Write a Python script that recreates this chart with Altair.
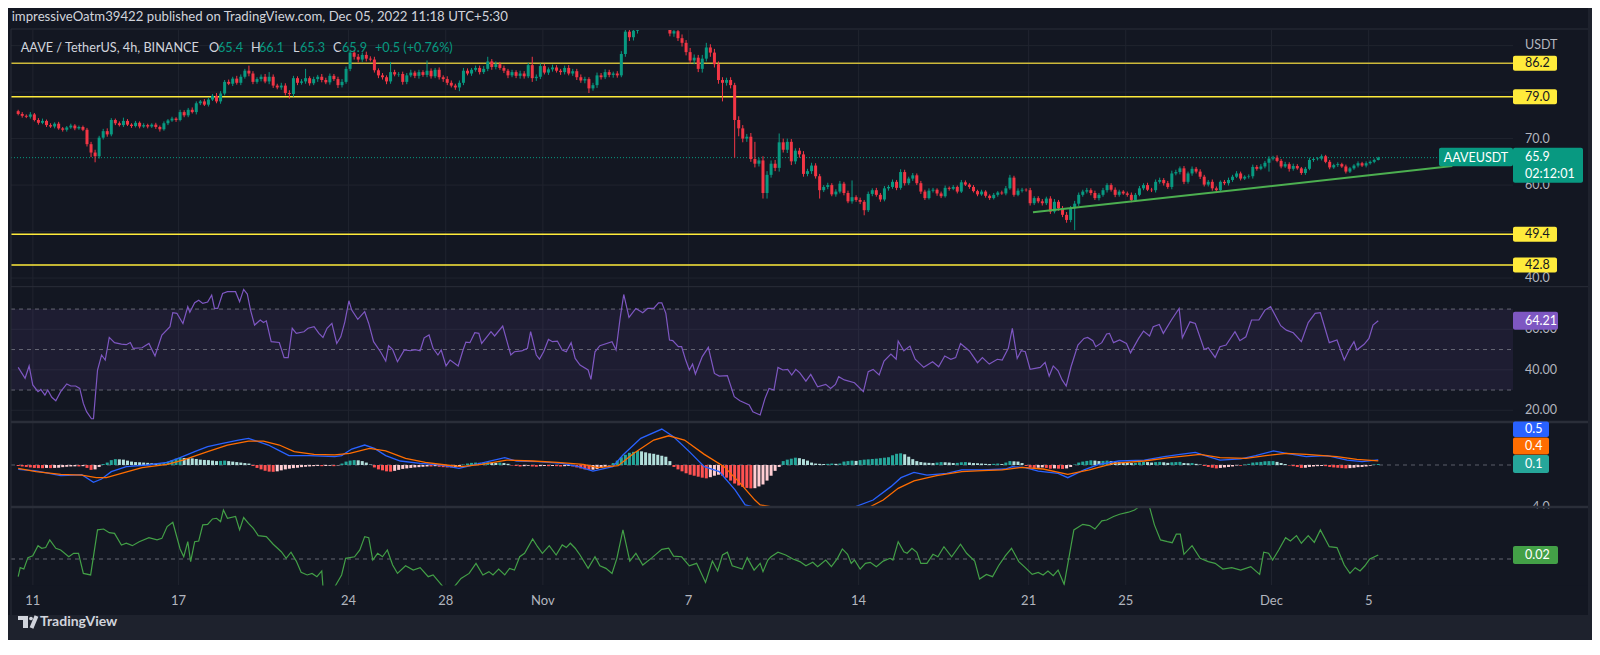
import altair as alt
import pandas as pd

W, H = 1584, 632
BG = "#131722"
FONT = "Lato"
TXT = "#d1d4dc"
AXC = "#b2b5be"
UP, DOWN = "#089981", "#f23645"

# ---------------- data ----------------
start = pd.Timestamp("2022-10-10 09:30")   # first 4h candle (UTC+5:30)
first_open = 75.9
closes = [
75.3, 74.9, 74.7, 75.2, 74.0, 73.4,
73.8, 72.9, 72.6, 73.2, 72.2, 71.9,
72.4, 72.8, 72.2, 72.5, 71.9, 68.8,
67.0, 66.2, 70.2, 71.6, 70.9, 74.0,
73.3, 72.9, 73.8, 73.0, 72.7, 73.4,
72.6, 72.9, 72.6, 73.0, 72.5, 72.0,
73.3, 73.9, 74.3, 74.0, 75.7, 75.0,
76.2, 75.7, 77.6, 78.0, 77.3, 78.4,
79.2, 78.0, 79.7, 82.2, 81.8, 82.9,
82.0, 83.3, 84.6, 84.0, 82.2, 82.8,
83.3, 82.3, 83.3, 81.4, 81.0, 81.4,
79.8, 79.6, 83.0, 82.0, 82.3, 83.0,
81.9, 82.8, 83.3, 82.6, 82.1, 83.5,
82.8, 81.5, 82.2, 85.0, 88.5, 87.6,
87.0, 88.0, 87.2, 87.0, 84.7, 83.6,
83.2, 82.3, 84.3, 83.8, 83.9, 82.2,
83.6, 84.2, 83.5, 84.3, 83.7, 84.6,
83.4, 84.8, 83.2, 82.8, 82.0, 81.4,
81.0, 82.0, 84.6, 84.0, 84.8, 85.2,
84.3, 85.0, 86.6, 85.4, 86.0, 85.2,
84.6, 83.6, 84.3, 83.5, 84.0, 83.4,
85.8, 83.0, 83.3, 85.6, 84.2, 84.9,
85.3, 84.6, 84.3, 85.2, 84.0, 84.5,
83.2, 82.5, 82.8, 80.8, 81.5, 83.6,
83.2, 84.3, 83.7, 84.0, 83.6, 88.2,
93.0, 91.8, 93.2, 94.8, 96.0, 95.2,
96.5, 97.0, 95.8, 96.2, 95.0, 92.6,
93.1, 91.6, 90.6, 88.6, 86.8, 87.4,
85.0, 87.2, 89.6, 88.5, 86.0, 82.6,
82.0, 82.6, 81.5, 74.0, 72.2, 70.0,
70.4, 65.6, 64.6, 65.3, 58.3, 62.2,
64.6, 63.7, 69.2, 67.6, 69.3, 65.1,
67.4, 66.6, 62.4, 63.0, 64.2, 61.9,
58.9, 59.6, 60.0, 58.0, 58.6, 60.3,
58.3, 56.5, 57.4, 56.8, 56.4, 54.6,
58.1, 58.9, 57.9, 56.9, 59.3, 59.6,
60.7, 59.4, 62.8, 60.4, 61.4, 62.1,
60.4, 58.6, 57.2, 58.8, 59.0, 58.2,
57.6, 59.4, 59.2, 59.6, 58.6, 60.6,
60.1, 59.6, 58.7, 58.0, 58.6, 57.7,
57.2, 57.9, 58.4, 58.2, 59.3, 61.6,
57.9, 58.8, 59.0, 58.9, 56.1, 57.2,
56.5, 56.1, 57.1, 54.3, 56.4, 55.0,
53.6, 52.5, 55.0, 56.0, 57.9, 58.6,
58.9, 58.3, 57.2, 57.9, 58.9, 60.0,
59.0, 57.9, 58.6, 58.2, 57.9, 56.8,
57.9, 59.3, 60.0, 59.0, 58.9, 60.7,
61.1, 60.4, 59.6, 62.5, 62.8, 63.6,
60.7, 62.5, 63.5, 62.9, 61.8, 60.1,
60.7, 59.3, 58.9, 60.7, 60.4, 61.1,
61.8, 62.5, 61.4, 61.8, 61.9, 63.9,
63.5, 64.0, 64.8, 65.7, 65.9, 65.2,
64.0, 64.5, 63.5, 64.1, 63.6, 62.6,
63.5, 65.4, 65.6, 65.7, 66.2, 65.0,
63.8, 64.3, 64.5, 64.0, 62.9, 63.6,
64.2, 64.7, 64.2, 64.7, 65.0, 65.4,
65.9]
wick_up = [
.3,.4,.3,.5,.3,.4, .5,.3,.4,.3,.4,.3, .3,.4,.3,.3,.3,.4, .5,.6,.4,.5,.6,.4,
.3,.4,.7,.4,.3,.4, .3,.4,.3,.3,.4,.3, .4,.3,.4,.3,.5,.4, .4,.5,.4,.3,.5,.4,
.4,.6,.5,.4,.5,.4, .6,.5,.4,1.1,.5,.4, .5,.6,1.0,.5,.4,.6, .5,.6,.5,.4,.5,2.0,
.4,.5,.4,.6,.5,.5, .4,.5,.6,.5,.6,.5, .6,.5,.7,.5,.6,.4, .5,.4,2.2,.5,.4,.5,
.5,.6,.4,.5,.4,2.2, .5,.4,.5,.4,.6,.5, .4,.5,.6,.5,.4,.5, .5,.6,1.0,.5,.6,.5,
.5,.4,.5,.4,.6,.5, .5,1.8,.5,.6,.5,.4, .6,.5,.4,.5,.6,.5, .5,.6,.5,.4,.5,.6,
.5,.6,.5,.4,.5,.6, .6,.8,.7,.6,.8,.6, .7,.6,.8,.6,.7,.8, .6,.7,.8,.6,.9,.7,
.6,.8,1.0,.7,.8,.6, .6,.5,.6,.5,.8,.7, .6,.8,3.7,.6,.9,.8, .7,.8,1.9,.8,.7,.6,
.5,.6,.7,.5,.6,.5, .5,.4,.5,.4,.5,.6, .4,.5,3.6,.4,.5,.4, .5,.4,.5,.4,.5,.4,
.5,.4,.6,.5,.4,.5, .4,.5,.4,.5,.4,.3, .4,.5,.3,.4,.3,.5, .4,.3,.4,.3,.4,.3,
.3,.4,.3,.4,.5,.6, .4,.5,.4,.3,.5,.4, .4,.5,.4,.5,.6,.4, .5,.6,.5,.6,.5,.4,
.5,.4,.5,.4,.5,.4, .4,.5,.4,.3,.4,.5, .4,.5,.4,.5,.4,.5, .5,.4,.5,.6,.5,.4,
.5,.4,.5,.4,.5,.4, .4,.5,.4,.3,.4,.5, .4,.5,.4,.3,.4,.5, .4,.5,.4,.5,.4,.5,
.4,.5,.4,.5,.4,.3, .4,.5,.4,.3,.4,.3, .4,.3,.4,.3,.4,.3, .3,.4,.3,.4,.3,.3,
.2]
wick_dn = [
.3,.4,.3,.4,.3,.4, .3,.4,.3,.4,.3,.4, .4,.3,.4,.3,.3,.5, 1.0,1.3,.5,.4,.5,.4,
.4,.3,.4,.3,.4,.3, .4,.3,.4,.3,.4,.5, .3,.4,.3,.4,.3,.4, .4,.3,.5,.4,.3,.4,
.3,.4,.5,.4,.3,.5, .4,.5,.4,.6,.5,.4, .5,.4,.6,.5,.4,.5, .5,1.0,.6,.5,.4,.5,
.5,.4,.6,.5,.4,.5, .4,.6,.5,.4,.5,.6, .6,.5,.6,.4,.5,.6, .5,.6,.5,.4,.5,.6,
.5,.4,.5,.6,.4,.5, .5,.4,.5,.6,.5,.4, .5,.8,.5,.4,.5,.4, .5,.4,.5,.6,.5,.4,
.5,.6,.4,.5,.6,.5, .4,.8,.6,.5,.4,.5, .5,.4,.6,.5,.4,.5, .6,.5,.6,1.0,.5,.6,
.5,.4,.5,.6,.5,.4, .6,.8,.7,.6,.7,.6, .7,.8,.6,.7,.8,.6, .7,.6,.8,.7,.6,.8,
.7,.8,.6,.9,.7,.8, 4.0,.6,.7,8.1,1.7,.8, .7,.6,.8,.6,1.2,1.2, .6,.7,.8,.6,.7,.8,
.6,.7,.6,.5,.6,.5, 1.8,.4,.5,.4,.5,.4, .5,.4,.5,.4,.5,1.1, .4,.5,.4,.5,.4,.5,
.4,.5,.4,.5,.4,.5, .4,.5,.4,.3,.4,.5, .4,.3,.4,.3,.4,.3, .3,.4,.3,.4,.3,.4,
.4,.3,.4,.3,.4,.3, .4,.3,.4,.3,.5,.4, .4,.5,.4,.5,.4,.5, .5,.6,.5,4.7,.5,.4,
.4,.5,.4,.5,.4,.5, .4,.5,.4,.3,.4,.5, .4,.3,.4,.3,.4,.5, .4,.5,.4,.5,.4,.5,
.5,.4,.5,.4,.5,.4, .4,.5,.4,.3,.4,.5, .4,.3,.4,.3,.4,.5, .4,.3,.4,1.9,.4,.3,
.4,.3,.6,.4,.3,.4, .4,.3,.4,.3,.4,.3, .4,.3,.4,.3,.4,.3, .3,.4,.3,.4,.3,.3,
.1]

levels = [86.2, 79.0, 49.4, 42.8]
level_colors = ["#cdb93a", "#ffeb3b", "#ffeb3b", "#ffeb3b"]
price_ticks = [70.0, 60.0, 40.0]
price_grid = [40, 50, 60, 70, 80, 90]
trend_bar = [250.7, 354.3]
trend_price = [54.14, 64.1]

tick_dates = ["2022-10-11", "2022-10-17", "2022-10-24", "2022-10-28", "2022-11-01",
              "2022-11-07", "2022-11-14", "2022-11-21", "2022-11-25", "2022-12-01", "2022-12-05"]
tick_text = ["11", "17", "24", "28", "Nov", "7", "14", "21", "25", "Dec", "5"]

rsi_pts = [(0,41.2),(1.7,35.8),(2.7,41.9),(3.6,32.5),(4.9,29.2),(5.6,30.3),(6.6,27.5),(7.3,30.0),(8.3,26.4),(9.3,24.7),(10.5,29.2),(12.0,33.0),(13.0,32.0),(14.2,32.0),(15.2,30.8),(16.1,23.4),(16.9,19.3),(18.1,15.8),(18.6,15.8),(19.6,39.9),(20.6,47.3),(21.5,44.8),(22.5,56.0),(23.8,53.4),(25.5,52.7),(26.7,52.4),(27.7,53.5),(28.4,50.6),(30.6,50.9),(32.3,53.0),(33.8,46.8),(35.5,57.2),(37.5,61.3),(38.2,68.2),(39.2,67.9),(40.7,62.9),(41.9,71.2),(42.4,68.4),(43.6,73.1),(44.6,74.4),(45.6,72.8),(46.8,73.5),(47.8,76.9),(48.5,70.3),(49.3,70.3),(50.5,77.7),(51.7,78.6),(53.7,78.6),(54.7,73.6),(55.7,79.7),(56.6,77.4),(57.4,69.5),(58.4,62.1),(59.8,64.6),(60.6,63.4),(61.3,64.2),(62.5,53.9),(64.5,53.5),(65.7,46.0),(66.7,46.0),(67.7,60.5),(68.7,58.0),(70.6,58.8),(71.6,60.5),(73.1,61.3),(74.3,58.0),(75.3,56.0),(76.3,60.5),(77.5,62.9),(78.7,53.0),(79.7,56.3),(80.7,63.7),(81.7,74.1),(82.4,69.5),(83.9,64.9),(85.6,68.7),(86.6,62.9),(87.8,53.9),(89.5,48.9),(90.8,44.3),(91.5,51.9),(92.5,50.0),(93.7,44.0),(95.4,49.8),(96.9,49.4),(98.1,50.0),(99.3,49.4),(100.3,55.8),(101.5,57.2),(102.5,50.6),(103.7,47.3),(104.5,49.8),(105.7,41.9),(106.7,44.8),(108.7,41.9),(109.9,49.8),(110.6,53.7),(111.6,53.4),(112.8,58.3),(113.8,58.0),(114.5,53.0),(116.8,58.8),(117.7,56.7),(119.7,61.6),(121.7,47.3),(122.6,48.9),(124.4,49.3),(125.8,50.6),(126.6,58.8),(128.0,47.3),(128.8,45.3),(129.8,48.9),(131.0,55.0),(132.0,53.9),(133.2,54.2),(134.4,49.8),(135.4,48.9),(136.6,53.4),(137.6,45.6),(138.8,42.3),(140.8,39.9),(141.5,35.3),(142.5,48.9),(143.7,51.9),(146.7,53.9),(147.7,49.8),(148.7,65.4),(149.6,77.2),(150.9,65.9),(152.6,70.3),(154.3,68.2),(155.5,70.3),(157.0,70.3),(158.2,73.1),(159.0,73.1),(160.0,67.9),(160.9,54.7),(161.7,54.4),(163.1,51.4),(163.9,51.4),(164.9,44.8),(165.8,39.9),(166.6,42.8),(167.3,37.9),(169.0,46.5),(170.5,51.1),(171.0,46.8),(172.0,38.2),(173.2,36.9),(175.2,37.1),(176.9,26.7),(178.3,24.7),(180.6,22.6),(181.5,19.3),(183.3,17.7),(184.5,25.9),(185.5,30.8),(186.7,30.0),(187.7,41.2),(188.9,39.9),(190.1,40.2),(191.1,37.4),(192.1,40.2),(193.1,38.5),(194.6,34.4),(195.8,37.7),(197.5,31.6),(199.5,32.8),(200.7,30.8),(201.9,32.8),(202.7,36.6),(204.1,35.0),(206.6,33.6),(208.8,29.2),(210.0,39.1),(211.2,40.2),(212.7,37.4),(213.9,44.3),(215.6,47.8),(216.9,45.2),(217.4,54.2),(218.8,49.4),(220.3,51.7),(221.6,45.2),(223.7,41.2),(225.9,44.0),(227.4,41.5),(228.9,46.8),(230.4,45.2),(231.6,46.0),(232.8,53.0),(235.0,49.3),(237.0,43.5),(238.2,46.0),(239.9,42.8),(241.9,45.2),(243.1,44.8),(244.6,50.6),(245.6,60.5),(246.8,45.6),(247.8,49.4),(248.8,48.9),(250.0,40.2),(252.5,41.2),(253.7,43.7),(254.7,36.9),(255.7,41.9),(256.9,39.5),(257.9,35.0),(258.9,32.0),(260.1,41.5),(261.8,52.2),(263.3,55.5),(264.2,56.0),(265.5,54.4),(266.2,51.4),(267.7,53.4),(268.9,57.7),(269.6,58.0),(270.6,53.4),(272.1,54.7),(273.8,53.0),(274.8,48.4),(276.8,55.5),(278.0,59.1),(279.5,56.7),(280.4,61.3),(281.9,62.4),(282.9,58.0),(284.9,64.6),(286.8,70.3),(287.6,55.8),(289.5,63.7),(290.8,62.9),(293.0,50.0),(294.0,50.9),(295.7,46.1),(296.9,51.4),(298.4,52.2),(300.6,58.8),(301.8,54.4),(303.3,56.3),(304.7,64.6),(306.5,64.6),(308.0,69.5),(309.4,71.2),(311.9,61.8),(313.3,59.6),(315.0,58.3),(317.0,53.9),(318.7,63.3),(320.4,67.9),(321.7,68.2),(323.9,53.4),(325.8,54.7),(327.6,44.8),(329.0,50.6),(330.0,53.9),(330.7,49.8),(332.5,52.6),(333.7,55.5),(334.7,62.1),(336.0,64.21)]

macd_pts = [(0,-0.44),(4.4,-0.6),(10.5,-1.1),(15.7,-1.0),(18.6,-1.77),(20.6,-1.44),(23.0,-0.68),(26.7,-0.17),(31.9,0.0),(36.8,0.27),(40.0,0.75),(43.6,1.37),(46.8,1.88),(50.5,2.22),(54.4,2.56),(56.9,2.73),(59.3,2.39),(61.8,2.05),(64.5,1.47),(66.9,0.96),(71.9,0.96),(78.2,0.85),(79.9,0.96),(82.4,1.64),(85.6,2.05),(88.0,1.71),(90.8,0.96),(94.4,0.41),(99.3,0.17),(104.5,0.0),(108.9,-0.34),(113.1,0.07),(120.2,0.75),(123.1,0.41),(128.3,0.34),(134.4,0.17),(138.4,-0.17),(142.0,-0.62),(146.9,-0.17),(149.4,1.03),(153.8,2.73),(159.0,3.69),(161.9,2.9),(165.8,1.37),(169.5,-0.17),(173.2,-0.68),(177.1,-2.56),(179.6,-4.1),(186,-5.6),(195,-6.4),(204,-5.3),(211.2,-3.59),(215.6,-2.22),(218.1,-1.3),(221.3,-0.75),(224.5,-1.03),(229.4,-0.85),(233.1,-0.51),(238.2,-0.51),(243.9,-0.41),(245.6,-0.17),(248.8,-0.27),(252.0,-0.62),(256.9,-0.85),(259.3,-1.3),(263.3,-0.51),(267.0,0.07),(271.9,0.41),(278.2,0.51),(283.1,0.85),(287.1,1.09),(290.8,1.3),(293.2,0.96),(296.9,0.51),(302.0,0.62),(305.7,0.96),(310.1,1.44),(313.3,1.2),(318.2,0.85),(323.4,0.96),(328.3,0.51),(332.0,0.34),(336.0,0.52)]

signal_pts = [(0,-0.34),(4.4,-0.68),(10.5,-0.96),(15.7,-1.03),(19.3,-1.3),(21.8,-1.3),(25.5,-0.85),(30.6,-0.27),(36.8,0.07),(40.7,0.51),(46.8,1.37),(51.7,2.05),(56.9,2.46),(60.6,2.46),(64.5,2.05),(68.2,1.37),(73.1,1.09),(78.2,1.03),(81.9,1.2),(86.8,1.71),(90.8,1.44),(95.7,0.68),(100.6,0.27),(105.7,0.0),(109.4,-0.17),(114.5,0.07),(120.7,0.51),(127.1,0.41),(133.2,0.27),(139.6,0.07),(143.3,-0.27),(148.2,-0.07),(152.1,1.2),(157.0,2.56),(160.7,3.0),(164.6,2.56),(169.5,1.09),(174.4,-0.17),(178.4,-1.88),(182.0,-3.6),(183.3,-4.1),(192,-5.4),(202,-5.6),(209,-4.6),(213.7,-3.59),(217.4,-2.39),(221.3,-1.64),(226.9,-1.1),(233.1,-0.68),(238.2,-0.58),(243.1,-0.51),(248.0,-0.24),(253.2,-0.41),(259.3,-0.96),(264.6,-0.51),(270.6,0.17),(278.2,0.41),(284.4,0.75),(292.0,1.09),(296.9,0.75),(303.3,0.68),(308.2,0.96),(313.3,1.2),(318.2,1.09),(325.8,0.85),(330.7,0.58),(336.0,0.43)]

hist = [
-0.10,-0.15,-0.20,-0.25,-0.30,-0.32, -0.33,-0.30,-0.32,-0.30,-0.28,-0.22, -0.18,-0.15,-0.14,-0.15,-0.12,-0.30,
-0.50,-0.45,-0.20,0.10,0.25,0.50, 0.60,0.58,0.55,0.45,0.35,0.30, 0.28,0.25,0.22,0.18,0.15,0.15,
0.20,0.35,0.50,0.65,0.75,0.72, 0.70,0.68,0.62,0.55,0.52,0.50, 0.45,0.40,0.42,0.45,0.40,0.35,
0.30,0.25,0.20,0.15,-0.10,-0.30, -0.45,-0.60,-0.68,-0.70,-0.65,-0.55, -0.45,-0.38,-0.32,-0.28,-0.22,-0.18,
-0.15,-0.12,-0.10,-0.12,-0.10,-0.08, -0.12,-0.05,0.15,0.35,0.45,0.50, 0.48,0.40,0.25,0.05,-0.25,-0.45,
-0.55,-0.65,-0.68,-0.60,-0.50,-0.40, -0.35,-0.30,-0.25,-0.22,-0.18,-0.15, -0.15,-0.12,-0.18,-0.22,-0.25,-0.25,
-0.22,-0.15,0.05,0.15,0.22,0.25, 0.22,0.25,0.28,0.25,0.22,0.25, 0.20,0.12,-0.05,-0.10,-0.15,-0.12,
-0.08,-0.15,-0.18,-0.12,-0.10,-0.12, -0.10,-0.12,-0.15,-0.12,-0.10,-0.15, -0.25,-0.35,-0.45,-0.50,-0.48,-0.40,
-0.30,-0.20,-0.05,0.20,0.45,0.80, 1.05,1.25,1.35,1.44,1.40,1.30, 1.20,1.15,1.05,0.95,0.85,0.40,
-0.20,-0.45,-0.65,-0.85,-1.00,-1.10, -1.20,-1.30,-1.37,-1.25,-1.10,-1.00, -1.10,-1.30,-1.60,-1.90,-2.10,-2.25,
-2.35,-2.40,-2.38,-2.20,-2.00,-1.60, -1.10,-0.60,-0.20,0.40,0.55,0.65, 0.75,0.70,0.60,0.45,0.25,0.15,
0.12,0.10,0.12,0.15,0.12,0.15, 0.35,0.40,0.45,0.42,0.50,0.55, 0.58,0.62,0.65,0.70,0.75,0.80,
1.00,1.15,1.20,1.10,0.85,0.60, 0.40,0.30,0.25,0.22,0.20,0.25, 0.30,0.28,0.25,0.20,0.22,0.28,
0.30,0.25,0.20,0.18,0.15,0.12, 0.10,0.12,0.15,0.10,0.25,0.40, 0.38,0.35,0.20,-0.10,-0.25,-0.30,
-0.28,-0.25,-0.30,-0.38,-0.35,-0.38, -0.40,-0.35,-0.20,0.05,0.25,0.35, 0.42,0.48,0.45,0.40,0.42,0.45,
0.40,0.35,0.30,0.28,0.25,0.20, 0.22,0.28,0.32,0.30,0.25,0.30, 0.32,0.28,0.22,0.28,0.30,0.32,
0.20,0.18,0.20,0.12,0.05,-0.10, -0.20,-0.28,-0.35,-0.30,-0.25,-0.20, -0.15,-0.05,-0.08,0.05,0.12,0.25,
0.28,0.32,0.38,0.40,0.40,0.32, 0.20,0.10,-0.05,-0.12,-0.20,-0.30, -0.28,-0.20,-0.15,-0.12,-0.10,-0.12,
-0.20,-0.25,-0.28,-0.32,-0.35,-0.32, -0.28,-0.22,-0.20,-0.15,-0.08,0.05,
0.10]

cmf_pts = [(0,-0.102),(0.5,-0.05),(1.4,-0.058),(2.4,0.008),(3.6,0.019),(4.9,0.077),(5.8,0.062),(6.8,0.066),(7.8,0.110),(9.3,0.062),(10.5,0.052),(12.5,0.013),(13.7,0.033),(14.9,0.033),(16.1,-0.083),(17.9,-0.092),(19.6,0.168),(21.1,0.173),(22.5,0.152),(23.8,0.148),(25.5,0.081),(26.7,0.091),(28.2,0.077),(29.9,0.100),(32.3,0.123),(34.3,0.110),(35.5,0.119),(36.8,0.187),(38.2,0.212),(40.0,0.058),(40.9,0.013),(41.9,0.100),(42.6,-0.015),(43.6,0.100),(44.6,0.104),(45.6,0.197),(46.8,0.200),(48.0,0.231),(49.0,0.235),(50.0,0.216),(50.7,0.283),(51.7,0.235),(53.7,0.245),(54.7,0.168),(55.7,0.239),(56.9,0.206),(58.1,0.177),(59.3,0.135),(61.3,0.129),(63.0,0.085),(65.0,0.042),(66.2,0.004),(67.4,0.039),(68.7,-0.012),(69.9,-0.077),(71.4,-0.092),(72.6,-0.083),(73.8,-0.102),(75.0,-0.069),(75.3,-0.17),(78.2,-0.17),(79.9,-0.092),(80.9,0.004),(83.1,0.013),(84.4,0.052),(85.6,0.129),(86.6,0.123),(87.6,-0.006),(88.8,0.033),(90.0,0.013),(91.2,0.052),(92.5,-0.035),(93.7,-0.083),(95.7,-0.039),(97.6,-0.064),(99.3,-0.050),(101.3,-0.102),(102.5,-0.092),(105.0,-0.17),(107.7,-0.17),(109.4,-0.112),(111.4,-0.083),(113.1,-0.025),(114.8,-0.092),(116.3,-0.073),(117.3,-0.092),(118.7,-0.058),(120.2,-0.092),(121.4,-0.054),(122.6,-0.064),(123.9,0.013),(125.1,0.033),(127.1,0.116),(128.3,0.071),(129.5,0.033),(131.2,0.077),(132.9,0.023),(134.4,0.081),(135.4,0.066),(136.4,0.091),(137.6,0.062),(138.8,0.023),(140.8,-0.054),(142.5,0.013),(143.7,-0.039),(145.2,-0.054),(146.7,-0.083),(147.9,0.004),(149.4,0.168),(151.1,-0.012),(152.6,0.033),(154.3,-0.035),(156.6,0.008),(159.0,0.056),(160.7,0.062),(161.9,0.017),(163.9,0.013),(165.8,-0.039),(167.6,-0.025),(169.8,-0.135),(171.5,-0.012),(172.8,-0.069),(174.0,0.023),(175.2,0.039),(176.4,-0.039),(178.9,-0.058),(180.1,0.008),(181.8,-0.064),(183.3,-0.025),(184.0,-0.073),(185.2,-0.006),(186.0,0.013),(187.7,0.039),(189.6,0.023),(191.4,0.000),(193.1,-0.015),(194.6,-0.039),(196.3,-0.019),(197.5,-0.044),(199.5,-0.006),(200.9,-0.044),(202.4,0.004),(203.6,0.058),(204.9,0.027),(205.8,-0.025),(206.6,-0.006),(208.0,-0.058),(209.3,-0.025),(210.5,-0.019),(212.0,-0.044),(213.7,-0.012),(215.4,0.004),(216.1,-0.006),(217.4,0.100),(218.8,0.042),(219.6,0.033),(220.8,0.062),(222.0,0.039),(223.0,-0.025),(224.5,-0.025),(226.0,0.027),(227.2,0.013),(228.7,0.071),(230.6,0.013),(232.8,0.085),(234.3,0.033),(236.3,-0.012),(237.5,-0.116),(239.2,-0.089),(240.7,-0.102),(242.2,-0.039),(243.9,0.019),(245.4,0.062),(247.2,-0.015),(248.8,-0.050),(250.5,-0.089),(252.0,-0.077),(253.2,-0.092),(254.4,-0.069),(255.7,-0.096),(256.9,-0.064),(258.4,-0.146),(260.8,0.168),(263.0,0.200),(264.7,0.193),(266.0,0.173),(267.7,0.220),(268.9,0.225),(270.6,0.245),(272.1,0.258),(274.3,0.270),(275.8,0.283),(276.8,0.32),(279.5,0.32),(280.7,0.197),(282.2,0.110),(283.9,0.100),(285.1,0.094),(286.1,0.143),(287.1,0.143),(288.0,0.027),(290.0,0.077),(292.0,0.004),(294.0,-0.015),(295.7,-0.025),(297.6,-0.058),(299.8,-0.050),(302.0,-0.064),(304.5,-0.044),(306.7,-0.089),(307.7,0.039),(308.9,0.033),(309.9,-0.006),(311.4,0.052),(313.1,0.123),(314.3,0.104),(315.8,0.135),(317.0,0.091),(318.7,0.135),(320.2,0.096),(321.7,0.168),(323.9,0.071),(325.8,0.066),(327.6,-0.035),(329.0,-0.083),(330.3,-0.050),(331.5,-0.069),(332.7,-0.039),(333.9,0.000),(336.0,0.023)]

rsi_levels = [70, 50, 30]
rsi_grid = [20, 40, 60]
rsi_ticks = [60.0, 40.0, 20.0]

# ---------------- frames ----------------
opens = [first_open] + closes[:-1]
highs = [max(o, c) + u for o, c, u in zip(opens, closes, wick_up)]
lows = [min(o, c) - d for o, c, d in zip(opens, closes, wick_dn)]
m = min(len(highs), len(lows))
candles = pd.DataFrame({
    "bar": list(range(m)), "open": opens[:m], "close": closes[:m],
    "high": highs[:m], "low": lows[:m],
    "col": [UP if c >= o else DOWN for o, c in zip(opens[:m], closes[:m])],
})

hcols = []
prev = 0.0
for h in hist:
    if h >= 0:
        hcols.append("#26a69a" if h >= prev else "#b2dfdb")
    else:
        hcols.append("#ffcdd2" if h > prev else "#ff5252")
    prev = h
hist_df = pd.DataFrame({"bar": list(range(len(hist))), "h": hist, "z": 0.0, "col": hcols})

rsi_df = pd.DataFrame(rsi_pts, columns=["bar", "v"])
macd_df = pd.DataFrame(macd_pts, columns=["bar", "v"])
sig_df = pd.DataFrame(signal_pts, columns=["bar", "v"])
cmf_df = pd.DataFrame(cmf_pts, columns=["bar", "v"])

ticks_df = pd.DataFrame({
    "bar": [(pd.Timestamp(d) - start) / pd.Timedelta(hours=4) for d in tick_dates],
    "t": tick_text,
})
last_o, last_c = opens[-1], closes[-1]
last_h, last_l = highs[-1], lows[-1]
chg = closes[-1] - closes[-2]
pct = chg / closes[-2] * 100

# ---------------- scales (pixel ranges inside the 1584x632 canvas) ----------------
XS = alt.Scale(domain=[-0.54, 368.05], range=[3, 1505], nice=False, zero=False)
PS = alt.Scale(domain=[38.29, 93.36], range=[278, 22], nice=False, zero=False, clamp=True)
RS = alt.Scale(domain=[14.7, 80.9], range=[413, 279], nice=False, zero=False, clamp=True)
MS = alt.Scale(domain=[-4.72, 4.31], range=[503, 415], nice=False, zero=False, clamp=True)
CS = alt.Scale(domain=[-0.1615, 0.30], range=[579, 499], nice=False, zero=False, clamp=True)

ONE = pd.DataFrame({"k": [0]})


def xq(f="bar"):
    return alt.X(f"{f}:Q", scale=XS, axis=None)


def yq(f, sc):
    return alt.Y(f"{f}:Q", scale=sc, axis=None)


def prect(x1, x2, y1, y2, color, **kw):
    return alt.Chart(ONE).mark_rect(color=color, **kw).encode(
        x=alt.value(x1), x2=alt.value(x2), y=alt.value(y1), y2=alt.value(y2))


def prule(x1, x2, y1, y2, color, width=1, **kw):
    return alt.Chart(ONE).mark_rule(color=color, strokeWidth=width, **kw).encode(
        x=alt.value(x1), x2=alt.value(x2), y=alt.value(y1), y2=alt.value(y2))


def ptext(text, x, y, color=TXT, size=13, align="left", weight="normal"):
    return alt.Chart(pd.DataFrame({"t": [text]})).mark_text(
        align=align, baseline="middle", color=color, fontSize=size, font=FONT, fontWeight=weight
    ).encode(x=alt.value(x), y=alt.value(y), text="t:N")


def hline(values, sc, color, width=1, dash=None, opacity=1.0, x2=1505):
    kw = {"strokeDash": dash} if dash else {}
    return alt.Chart(pd.DataFrame({"v": values})).mark_rule(
        color=color, strokeWidth=width, opacity=opacity, **kw
    ).encode(y=yq("v", sc), x=alt.value(3), x2=alt.value(x2))


def vbox(value, sc, x1, x2, off1, off2, color):
    return alt.Chart(pd.DataFrame({"v": [value]})).mark_rect(
        color=color, cornerRadius=2, yOffset=off1, y2Offset=off2
    ).encode(y=yq("v", sc), y2="v:Q", x=alt.value(x1), x2=alt.value(x2))


def vtext(value, sc, text, x, color="#ffffff", size=12.5, dy=0, align="left"):
    return alt.Chart(pd.DataFrame({"v": [value], "t": [text]})).mark_text(
        align=align, baseline="middle", color=color, fontSize=size, font=FONT, dy=dy
    ).encode(y=yq("v", sc), x=alt.value(x), text="t:N")


GRID = "#20242f"
SEP = "#2a2e39"
layers = []

# background pieces
layers.append(prect(0, W, 607, H, "#1e222d"))
layers.append(prect(1580, W, 0, H, "#1e222d"))

# grid (price, RSI, MACD panes)
layers.append(alt.Chart(ticks_df).mark_rule(color=GRID, strokeWidth=1).encode(
    x=xq(), y=alt.value(22), y2=alt.value(498)))
layers.append(hline(price_grid, PS, GRID))
layers.append(hline(rsi_grid, RS, GRID))

# RSI band + dashed levels
layers.append(alt.Chart(pd.DataFrame({"lo": [30], "hi": [70]})).mark_rect(
    color="#7e57c2", opacity=0.1).encode(y=yq("lo", RS), y2="hi:Q", x=alt.value(3), x2=alt.value(1505)))
layers.append(hline(rsi_levels, RS, "#787b86", dash=[4, 4], opacity=0.8))
layers.append(hline([0], MS, "#787b86", dash=[4, 4], opacity=0.7))

# horizontal levels and live price line
layers.append(alt.Chart(pd.DataFrame({"v": levels, "col": level_colors})).mark_rule(strokeWidth=1.5).encode(
    y=yq("v", PS), x=alt.value(3), x2=alt.value(1505), color=alt.Color("col:N", scale=None)))
layers.append(hline([last_c], PS, UP, dash=[1, 2]))

# candles
layers.append(alt.Chart(candles).mark_rule(strokeWidth=1).encode(
    x=xq(), y=yq("low", PS), y2="high:Q", color=alt.Color("col:N", scale=None)))
layers.append(alt.Chart(candles).mark_bar(size=3).encode(
    x=xq(), y=yq("open", PS), y2="close:Q", color=alt.Color("col:N", scale=None)))

# trend line
layers.append(alt.Chart(pd.DataFrame({"bar": trend_bar, "v": trend_price})).mark_line(
    color="#4caf50", strokeWidth=2).encode(x=xq(), y=yq("v", PS)))

# RSI
layers.append(alt.Chart(rsi_df).mark_line(color="#7e57c2", strokeWidth=1.2).encode(x=xq(), y=yq("v", RS)))

# MACD
layers.append(alt.Chart(hist_df).mark_bar(size=3).encode(
    x=xq(), y=yq("h", MS), y2="z:Q", color=alt.Color("col:N", scale=None)))
layers.append(alt.Chart(macd_df).mark_line(color="#2962ff", strokeWidth=1.3).encode(x=xq(), y=yq("v", MS)))
layers.append(alt.Chart(sig_df).mark_line(color="#ff6d00", strokeWidth=1.3).encode(x=xq(), y=yq("v", MS)))

# oscillator pane background (hides MACD overflow), its grid and content
layers.append(prect(3, 1505, 499, 579, BG))
layers.append(alt.Chart(ticks_df).mark_rule(color=GRID, strokeWidth=1).encode(
    x=xq(), y=alt.value(500), y2=alt.value(577)))
layers.append(hline([0], CS, "#787b86", dash=[4, 4], opacity=0.8))
layers.append(alt.Chart(cmf_df).mark_line(color="#43a047", strokeWidth=1.2).encode(x=xq(), y=yq("v", CS)))

# MACD axis label partly hidden by the next pane
layers.append(ptext("\u22124.0", 1517, 499, AXC, 12.5))
layers.append(prect(1505, 1580, 500.5, 577, BG))

# covers and separators
layers.append(prect(3, 1580, 577.5, 607, BG))
layers.append(prule(3, 1580, 21, 21, SEP))
layers.append(prule(3, 3, 21, 607, SEP))
layers.append(prule(3, 1580, 278.7, 278.7, SEP))
layers.append(prule(3, 1580, 414, 414, SEP, 2.5))
layers.append(prule(3, 1580, 499, 499, SEP, 2.5))

# right price scale
layers.append(ptext("USDT", 1517, 37, AXC, 12.5))
layers.append(alt.Chart(pd.DataFrame({"v": price_ticks, "t": [f"{v:.1f}" for v in price_ticks]})).mark_text(
    align="left", baseline="middle", color=AXC, fontSize=12.5, font=FONT).encode(
    y=yq("v", PS), x=alt.value(1517), text="t:N"))
lv = pd.DataFrame({"v": levels, "t": [f"{v:.1f}" for v in levels]})
layers.append(alt.Chart(lv).mark_rect(cornerRadius=2, yOffset=-7.5, y2Offset=7.5, color="#ffeb3b").encode(
    y=yq("v", PS), y2="v:Q", x=alt.value(1505), x2=alt.value(1549)))
layers.append(alt.Chart(lv).mark_text(align="left", baseline="middle", color="#131722", fontSize=12.5, font=FONT).encode(
    y=yq("v", PS), x=alt.value(1517), text="t:N"))
layers.append(vbox(last_c, PS, 1431, 1505, -10, 8.5, UP))
layers.append(vtext(last_c, PS, "AAVEUSDT", 1468, align="center"))
layers.append(vbox(last_c, PS, 1505, 1575, -10, 25, UP))
layers.append(vtext(last_c, PS, f"{last_c:.1f}", 1517, dy=-1))
layers.append(vtext(last_c, PS, "02:12:01", 1517, dy=16))

# RSI scale
layers.append(alt.Chart(pd.DataFrame({"v": rsi_ticks, "t": [f"{v:.2f}" for v in rsi_ticks]})).mark_text(
    align="left", baseline="middle", color=AXC, fontSize=12.5, font=FONT).encode(
    y=yq("v", RS), x=alt.value(1517), text="t:N"))
layers.append(vbox(rsi_pts[-1][1], RS, 1505, 1550, -9, 9, "#7e57c2"))
layers.append(vtext(rsi_pts[-1][1], RS, f"{rsi_pts[-1][1]:.2f}", 1517))

# MACD scale labels (stacked)
macd_last = [(macd_pts[-1][1], "#2962ff", 413.5, 429),
             (signal_pts[-1][1], "#ff6d00", 429.5, 446.5),
             (hist[-1], "#26a69a", 447, 465)]
for val, colr, y1, y2 in macd_last:
    layers.append(prect(1505, 1541, y1, y2, colr, cornerRadius=2))
    layers.append(ptext(f"{val:.1f}", 1517, (y1 + y2) / 2, "#ffffff", 12.5))

# oscillator label
layers.append(vbox(cmf_pts[-1][1], CS, 1505, 1550, -9, 9, "#43a047"))
layers.append(vtext(cmf_pts[-1][1], CS, f"{cmf_pts[-1][1]:.2f}", 1517))

# time axis
layers.append(alt.Chart(ticks_df).mark_text(
    align="center", baseline="middle", color=AXC, fontSize=13, font=FONT).encode(
    x=xq(), y=alt.value(593), text="t:N"))

# header and legend
layers.append(ptext("impressiveOatm39422 published on TradingView.com, Dec 05, 2022 11:18 UTC+5:30",
                    3.7, 8.7, TXT, 13.2))
layers.append(ptext("AAVE / TetherUS, 4h, BINANCE", 12.7, 40, TXT, 12.7))
legend_items = [("O", 201, TXT), (f"{last_o:.1f}", 210, UP), ("H", 243, TXT), (f"{last_h:.1f}", 251, UP),
                ("L", 285, TXT), (f"{last_l:.1f}", 292, UP), ("C", 325, TXT), (f"{last_c:.1f}", 334, UP),
                (f"{chg:+.1f} ({pct:+.2f}%)", 367, UP)]
for t, x, c in legend_items:
    layers.append(ptext(t, x, 40, c, 12.7))

# footer logo
layers.append(prect(10, 20, 608, 612, TXT))
layers.append(prect(15, 20, 608, 620, TXT))
layers.append(alt.Chart(ONE).mark_circle(color=TXT, size=14, opacity=1).encode(x=alt.value(23), y=alt.value(610.5)))
layers.append(prule(28.5, 23.5, 608, 620, TXT, 4))
layers.append(ptext("TradingView", 32, 614, TXT, 14, weight="bold"))

chart = alt.layer(*layers).resolve_scale(y="independent").properties(
    width=W, height=H, padding=0, autosize="none", background=BG
).configure_view(stroke=None)

chart.save("out.html", embed_options={"renderer": "svg", "actions": False})
